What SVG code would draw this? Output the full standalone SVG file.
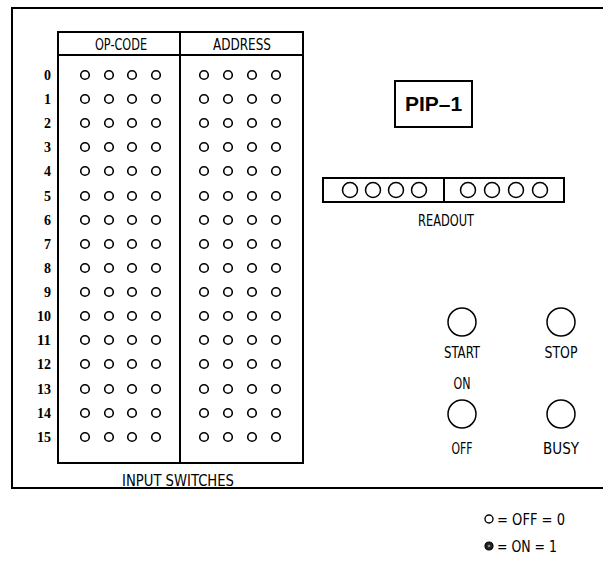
<svg xmlns="http://www.w3.org/2000/svg" width="603" height="563" viewBox="0 0 603 563">
<style>
.ln{fill:none;stroke:#000;stroke-width:2}
.sw{fill:#fff;stroke:#000;stroke-width:1.6}
.rd{fill:#fff;stroke:#000;stroke-width:1.5}
.bt{fill:#fff;stroke:#000;stroke-width:1.5}
.t{font-family:"DejaVu Sans Condensed","DejaVu Sans",sans-serif;font-size:15.5px;fill:#000;text-anchor:middle}
.n{font-family:"Liberation Serif","Times New Roman",serif;font-weight:bold;font-size:14px;fill:#000;text-anchor:end}
.lg{font-family:"DejaVu Sans Condensed","DejaVu Sans",sans-serif;font-size:15px;fill:#000}
</style>
<defs>
<g id="row">
<circle class="sw" cx="85" cy="0" r="4.3"/><circle class="sw" cx="109" cy="0" r="4.3"/><circle class="sw" cx="132" cy="0" r="4.3"/><circle class="sw" cx="156" cy="0" r="4.3"/>
<circle class="sw" cx="204" cy="0" r="4.3"/><circle class="sw" cx="228" cy="0" r="4.3"/><circle class="sw" cx="252" cy="0" r="4.3"/><circle class="sw" cx="276" cy="0" r="4.3"/>
</g>
</defs>
<rect width="603" height="563" fill="#fff"/>
<g id="frame">
<path class="ln" d="M603,8 H12 V488 H603" stroke-width="2.5"/>
</g>
<g id="input-switches">
<rect class="ln" x="58" y="32" width="245" height="431"/>
<line class="ln" x1="58" y1="55" x2="303" y2="55"/>
<line class="ln" x1="180" y1="32" x2="180" y2="463"/>
<text class="t" x="121" y="49.5" textLength="52" lengthAdjust="spacingAndGlyphs">OP-CODE</text>
<text class="t" x="242" y="49.5" textLength="58" lengthAdjust="spacingAndGlyphs">ADDRESS</text>
<use href="#row" y="75"/><use href="#row" y="99"/><use href="#row" y="123"/><use href="#row" y="147"/>
<use href="#row" y="171"/><use href="#row" y="196"/><use href="#row" y="220"/><use href="#row" y="244"/>
<use href="#row" y="268"/><use href="#row" y="292"/><use href="#row" y="316"/><use href="#row" y="340"/>
<use href="#row" y="364"/><use href="#row" y="389"/><use href="#row" y="413"/><use href="#row" y="437"/>
<g>
<text class="n" x="51" y="80">0</text><text class="n" x="51" y="104">1</text><text class="n" x="51" y="128">2</text><text class="n" x="51" y="152">3</text>
<text class="n" x="51" y="176">4</text><text class="n" x="51" y="201">5</text><text class="n" x="51" y="225">6</text><text class="n" x="51" y="249">7</text>
<text class="n" x="51" y="273">8</text><text class="n" x="51" y="297">9</text><text class="n" x="51" y="321" textLength="14" lengthAdjust="spacingAndGlyphs">10</text><text class="n" x="51" y="345" textLength="14" lengthAdjust="spacingAndGlyphs">11</text>
<text class="n" x="51" y="369" textLength="14" lengthAdjust="spacingAndGlyphs">12</text><text class="n" x="51" y="394" textLength="14" lengthAdjust="spacingAndGlyphs">13</text><text class="n" x="51" y="418" textLength="14" lengthAdjust="spacingAndGlyphs">14</text><text class="n" x="51" y="442" textLength="14" lengthAdjust="spacingAndGlyphs">15</text>
</g>
<text class="t" x="178" y="486" textLength="112" lengthAdjust="spacingAndGlyphs">INPUT SWITCHES</text>
</g>
<g id="pip1">
<rect class="ln" x="395" y="81" width="77" height="46"/>
<text x="433.5" y="111" font-family="Liberation Sans, Arial, sans-serif" font-weight="bold" font-size="21" text-anchor="middle">PIP–1</text>
</g>
<g id="readout">
<rect class="ln" x="323" y="178" width="241" height="24"/>
<line class="ln" x1="444" y1="178" x2="444" y2="202"/>
<circle class="rd" cx="350" cy="190" r="7.5"/><circle class="rd" cx="373" cy="190" r="7.5"/><circle class="rd" cx="396" cy="190" r="7.5"/><circle class="rd" cx="419" cy="190" r="7.5"/>
<circle class="rd" cx="468" cy="190" r="7.5"/><circle class="rd" cx="492" cy="190" r="7.5"/><circle class="rd" cx="516" cy="190" r="7.5"/><circle class="rd" cx="540" cy="190" r="7.5"/>
<text class="t" x="446" y="226" textLength="56" lengthAdjust="spacingAndGlyphs">READOUT</text>
</g>
<g id="start">
<circle class="bt" cx="462" cy="322" r="14"/>
<text class="t" x="462" y="358" textLength="36" lengthAdjust="spacingAndGlyphs">START</text>
</g>
<g id="stop">
<circle class="bt" cx="561" cy="322" r="14"/>
<text class="t" x="561" y="358" textLength="33" lengthAdjust="spacingAndGlyphs">STOP</text>
</g>
<g id="onoff">
<text class="t" x="462" y="389" textLength="17" lengthAdjust="spacingAndGlyphs">ON</text>
<circle class="bt" cx="462" cy="414" r="14"/>
<text class="t" x="462" y="454" textLength="21" lengthAdjust="spacingAndGlyphs">OFF</text>
</g>
<g id="busy">
<circle class="bt" cx="561" cy="414" r="14"/>
<text class="t" x="561" y="454" textLength="36" lengthAdjust="spacingAndGlyphs">BUSY</text>
</g>
<g id="legend">
<circle cx="489" cy="519" r="4" fill="#fff" stroke="#000" stroke-width="1.4"/>
<text class="lg" x="497" y="525" textLength="68" lengthAdjust="spacingAndGlyphs">= OFF = 0</text>
<circle cx="489" cy="546" r="4" fill="#222" stroke="#000" stroke-width="1.2"/>
<circle cx="489" cy="546" r="1.3" fill="#888"/>
<text class="lg" x="497" y="552" textLength="60" lengthAdjust="spacingAndGlyphs">= ON = 1</text>
</g>
</svg>
